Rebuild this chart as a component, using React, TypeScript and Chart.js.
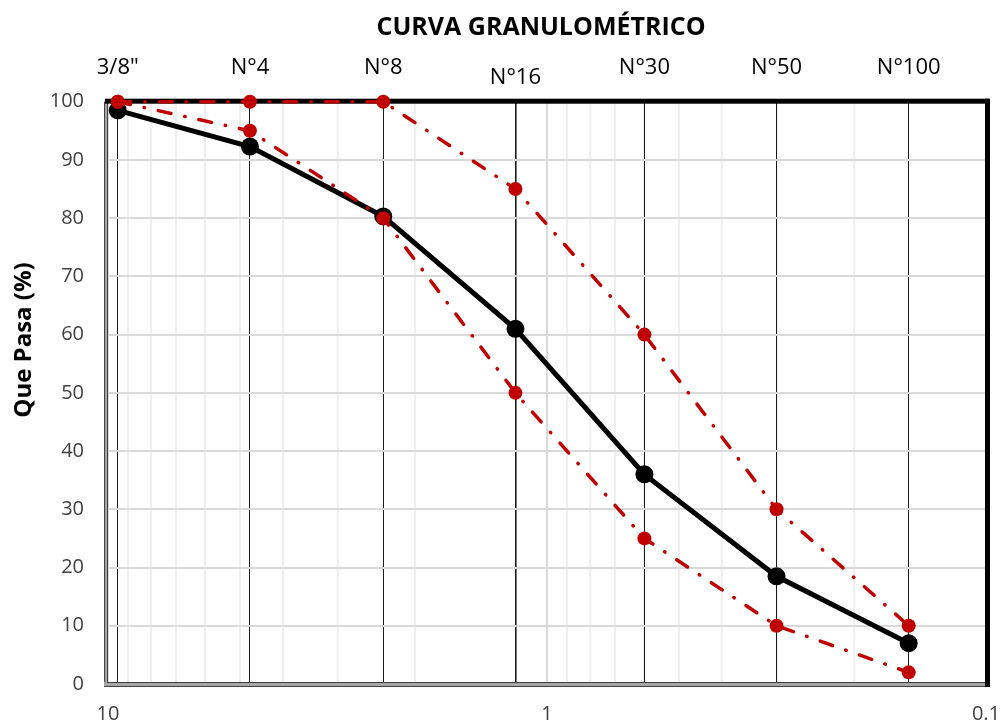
import React, { useEffect, useRef } from "react";
import { Chart, registerables } from "chart.js";

Chart.register(...registerables);

const sieveLabels = ['3/8"', "N°4", "N°8", "N°16", "N°30", "N°50", "N°100"];
const sieveSizes = [9.5, 4.75, 2.36, 1.18, 0.6, 0.3, 0.15];
const passing = [98.5, 92.3, 80.3, 61, 36, 18.5, 7];
const upperLimit = [100, 100, 100, 85, 60, 30, 10];
const lowerLimit = [100, 95, 80, 50, 25, 10, 2];
const bottomTickLabels = [10, 1, 0.1];
const minorTicks = [
  0.1, 0.2, 0.3, 0.4, 0.5, 0.6, 0.7, 0.8, 0.9, 1, 2, 3, 4, 5, 6, 7, 8, 9, 10,
];
const yTicks = [0, 10, 20, 30, 40, 50, 60, 70, 80, 90, 100];
const chartTitle = "CURVA GRANULOMÉTRICO";
const yTitle = "Que Pasa (%)";

const FONT = "'Open Sans', 'DejaVu Sans', sans-serif";

function pts(values: number[]) {
  return sieveSizes.map((x, i) => ({ x, y: values[i] }));
}

const framePlugin = {
  id: "frame",
  beforeDatasetsDraw(chart: any) {
    const { ctx, chartArea } = chart;
    const { left, right, top, bottom } = chartArea;
    ctx.save();
    // left double border
    ctx.fillStyle = "#a6a6a6";
    ctx.fillRect(left - 4, top, 4, bottom - top + 3);
    ctx.fillStyle = "#404040";
    ctx.fillRect(left - 4, top, 1, bottom - top + 3);
    ctx.fillRect(left - 1, top, 1, bottom - top);
    // bottom double border
    ctx.fillStyle = "#a6a6a6";
    ctx.fillRect(left - 4, bottom - 2, right - left + 6, 5);
    ctx.fillStyle = "#404040";
    ctx.fillRect(left - 1, bottom - 2, right - left + 1, 1);
    ctx.fillRect(left - 4, bottom + 2, right - left + 7, 1);
    // top and right thick black
    ctx.fillStyle = "#000";
    ctx.fillRect(left - 3, top - 3, right - left + 6, 5);
    ctx.fillRect(right - 1, top - 3, 5, bottom - top + 6);
    ctx.restore();
  },
  afterDraw(chart: any) {
    const { ctx } = chart;
    const xs = chart.scales.x2;
    ctx.save();
    ctx.fillStyle = "#000";
    ctx.textAlign = "center";
    ctx.textBaseline = "middle";
    ctx.font = `22px ${FONT}`;
    sieveSizes.forEach((s, i) => {
      const px = xs.getPixelForValue(s);
      const py = sieveLabels[i] === "N°16" ? 78 : 68;
      ctx.fillText(sieveLabels[i], px, py);
    });
    ctx.font = `bold 25px ${FONT}`;
    ctx.fillText(chartTitle, 541, 28);
    ctx.translate(24, 340);
    ctx.rotate(-Math.PI / 2);
    ctx.font = `bold 24px ${FONT}`;
    ctx.fillText(yTitle, 0, 0);
    ctx.restore();
  },
};

export default function App() {
  const ref = useRef<HTMLCanvasElement | null>(null);
  useEffect(() => {
    document.body.style.margin = "0";
    const canvas = ref.current!;
    const red = "#c00000";
    const redStyle = {
      showLine: true,
      borderColor: red,
      backgroundColor: red,
      borderWidth: 3.5,
      borderDash: [13, 14, 0.5, 14],
      borderCapStyle: "round",
      pointRadius: 7,
      pointBorderWidth: 0,
      clip: false,
      xAxisID: "x",
    };
    const chart = new Chart(canvas, {
      type: "scatter",
      data: {
        datasets: [
          { label: "Límite superior", data: pts(upperLimit), ...redStyle } as any,
          { label: "Límite inferior", data: pts(lowerLimit), ...redStyle } as any,
          {
            label: "Muestra",
            data: pts(passing),
            showLine: true,
            borderColor: "#000",
            backgroundColor: "#000",
            borderWidth: 5,
            pointRadius: 9,
            pointBorderWidth: 0,
            clip: false,
            xAxisID: "x",
          } as any,
        ],
      },
      options: {
        responsive: false,
        animation: false,
        layout: { padding: { left: 0, right: 19, top: 0, bottom: 0 } },
        plugins: {
          legend: { display: false },
          tooltip: { enabled: false },
          title: { display: false },
        },
        scales: {
          x: {
            type: "logarithmic",
            position: "bottom",
            reverse: true,
            min: 0.1,
            max: 10,
            afterBuildTicks: (s: any) => {
              s.ticks = minorTicks.map((v) => ({ value: v }));
            },
            afterFit: (s: any) => {
              s.height = 43;
            },
            ticks: {
              autoSkip: false,
              maxRotation: 0,
              padding: 18,
              color: "#404040",
              font: { family: FONT, size: 20 },
              callback: (v: any) => {
                const n = Number(v);
                return bottomTickLabels.some((b) => Math.abs(b - n) < 1e-9)
                  ? String(n)
                  : "";
              },
            },
            grid: {
              drawTicks: false,
              color: (c: any) => {
                const v = c.tick ? c.tick.value : 0;
                return bottomTickLabels.some((b) => Math.abs(b - v) < 1e-9)
                  ? "#d9d9d9"
                  : "#efefef";
              },
              lineWidth: 2,
            },
            border: { display: false },
          },
          x2: {
            type: "logarithmic",
            position: "top",
            reverse: true,
            min: 0.1,
            max: 10,
            afterBuildTicks: (s: any) => {
              s.ticks = sieveSizes.map((v) => ({ value: v }));
            },
            afterFit: (s: any) => {
              s.height = 101.7;
            },
            ticks: { display: false },
            grid: {
              drawTicks: false,
              color: "#1a1a1a",
              lineWidth: (c: any) =>
                c.tick && Math.abs(c.tick.value - 1.18) < 1e-9 ? 1.6 : 1,
            },
            border: { display: false },
          },
          y: {
            type: "linear",
            position: "left",
            min: 0,
            max: 100,
            afterBuildTicks: (s: any) => {
              s.ticks = yTicks.map((v) => ({ value: v }));
            },
            afterFit: (s: any) => {
              s.width = 108;
            },
            ticks: {
              padding: 24,
              color: "#404040",
              font: { family: FONT, size: 20 },
            },
            grid: { drawTicks: false, color: "#d9d9d9", lineWidth: 2 },
            border: { display: false },
          },
        },
      } as any,
      plugins: [framePlugin],
    });
    return () => chart.destroy();
  }, []);
  return (
    <div style={{ width: 1005, height: 727 }}>
      <canvas ref={ref} width={1005} height={727} style={{ display: "block" }} />
    </div>
  );
}
